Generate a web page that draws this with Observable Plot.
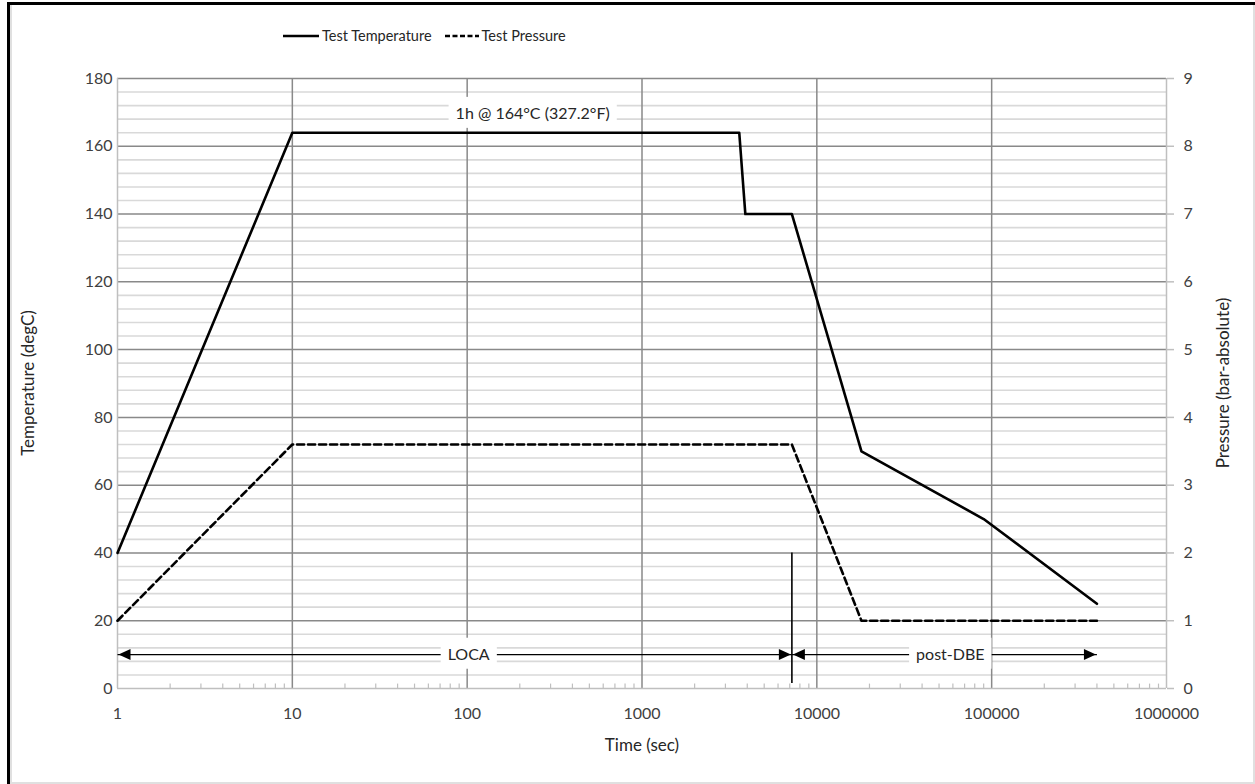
<!DOCTYPE html>
<html><head><meta charset="utf-8">
<script src="https://cdn.jsdelivr.net/npm/d3@7"></script>
<script src="https://cdn.jsdelivr.net/npm/@observablehq/plot@0.6"></script>
<style>
body{margin:0;background:#fff;font-family:Lato,"Open Sans",sans-serif;}
#wrap{position:relative;width:1255px;height:784px;overflow:hidden;background:#fff;}
#wrap svg.plot{position:absolute;left:0;top:0;}
.edge{position:absolute;}
.title{position:absolute;font-size:17px;color:#262626;white-space:nowrap;transform:translate(-50%,-50%);}
.rot{transform:translate(-50%,-50%) rotate(-90deg);}
#legend{position:absolute;left:283px;top:27px;font-size:14.5px;color:#262626;display:flex;align-items:center;white-space:nowrap;}
#legend span{display:inline-flex;align-items:center;}
</style></head><body>
<div id="wrap"></div>
<script>
// ---- data ----
const timeTemp  = [1, 10, 3600, 3900, 7200, 18000, 90000, 400000];
const tempC     = [40, 164, 164, 140, 140, 70, 50, 25];
const timePress = [1, 10, 7200, 18000, 400000];
const pressBar  = [1, 3.6, 3.6, 1, 1];
const xTicks = [1, 10, 100, 1000, 10000, 100000, 1000000];
const yTicks = [0, 20, 40, 60, 80, 100, 120, 140, 160, 180];
const pTicks = [0, 1, 2, 3, 4, 5, 6, 7, 8, 9];
const annLabels = ["1h @ 164°C (327.2°F)", "LOCA", "post-DBE"];
const annTime   = [237, 102, 58000];
const annTemp   = [169.6, 10, 10];
const phaseFrom = [1, 7200];
const phaseTo   = [7200, 400000];
const phaseLevel = 10;
const markerTime = 7200;
const markerRange = [1.5, 40];

// ---- derived tables ----
const temp = timeTemp.map((t, i) => ({t, v: tempC[i]}));
const press = timePress.map((t, i) => ({t, p: pressBar[i]}));
const ann = annLabels.map((label, i) => ({label, t: annTime[i], v: annTemp[i]}));
const phases = phaseFrom.map((a, i) => ({a, b: phaseTo[i], v: phaseLevel}));
const leftHeads = phases.map(d => ({t: d.a, v: d.v}));
const rightHeads = phases.map(d => ({t: d.b, v: d.v}));
const minorY = d3.range(0, 181, 4).filter(v => v % 20 !== 0);
const minorX = [];
xTicks.slice(0, -1).forEach(d => { for (let k = 2; k <= 9; k++) minorX.push(d * k); });

const leftTri = {draw(c) { c.moveTo(1, 0); c.lineTo(13, -5.5); c.lineTo(13, 5.5); c.closePath(); }};
const rightTri = {draw(c) { c.moveTo(-1, 0); c.lineTo(-13, -5.5); c.lineTo(-13, 5.5); c.closePath(); }};

const chart = Plot.plot({
  width: 1255, height: 784,
  marginLeft: 117, marginRight: 89, marginTop: 78, marginBottom: 96,
  style: {fontFamily: "Lato, 'Open Sans', sans-serif", fontSize: "16px", background: "transparent"},
  x: {type: "log", domain: [1, 1000000], label: null},
  y: {domain: [0, 180], label: null},
  marks: [
    Plot.ruleY(minorY, {stroke: "#d9d9d9", strokeWidth: 1.6}),
    Plot.ruleY(yTicks.filter(v => v > 0), {stroke: "#898989", strokeWidth: 1.5}),
    Plot.ruleX(xTicks.slice(1, -1), {stroke: "#898989", strokeWidth: 1.5}),
    Plot.ruleX(minorX, {y1: 0, y2: 1.3, stroke: "#bfbfbf", strokeWidth: 1.2}),
    Plot.ruleX([1, 1000000], {stroke: "#bfbfbf", strokeWidth: 1.5}),
    Plot.ruleY([0], {stroke: "#bfbfbf", strokeWidth: 1.5}),
    Plot.axisX({ticks: xTicks, tickFormat: d => String(d), tickSize: 0, tickPadding: 19, fill: "#404040", fontSize: 16, label: null}),
    Plot.axisY({ticks: yTicks, tickSize: 0, tickPadding: 5, fill: "#404040", fontSize: 16, label: null}),
    Plot.axisY({anchor: "right", ticks: pTicks.map(p => p * 20), tickFormat: d => String(d / 20), tickSize: 7, tickPadding: 10, stroke: "#bfbfbf", strokeWidth: 1.5, fill: "#404040", fontSize: 16, label: null}),
    Plot.line(press, {x: "t", y: d => d.p * 20, stroke: "#000", strokeWidth: 2.6, strokeDasharray: "7,4"}),
    Plot.line(temp, {x: "t", y: "v", stroke: "#000", strokeWidth: 2.6}),
    Plot.ruleX([markerTime], {y1: markerRange[0], y2: markerRange[1], stroke: "#000", strokeWidth: 1.6}),
    Plot.link(phases, {x1: "a", x2: "b", y1: "v", y2: "v", stroke: "#000", strokeWidth: 1.2}),
    Plot.dot(leftHeads, {x: "t", y: "v", symbol: leftTri, fill: "#000", stroke: "none"}),
    Plot.dot(rightHeads, {x: "t", y: "v", symbol: rightTri, fill: "#000", stroke: "none"}),
    Plot.text(ann, {x: "t", y: "v", text: "label", fill: "#262626", fontSize: 16})
  ]
});
chart.classList.add("plot");
const wrap = document.getElementById("wrap");
wrap.appendChild(chart);

// white boxes behind annotation labels
chart.querySelectorAll('g[aria-label="text"] text').forEach(t => {
  const b = t.getBBox();
  const r = document.createElementNS("http://www.w3.org/2000/svg", "rect");
  r.setAttribute("x", b.x - 7); r.setAttribute("y", b.y - 6);
  r.setAttribute("width", b.width + 14); r.setAttribute("height", b.height + 12);
  r.setAttribute("fill", "#fff");
  if (t.getAttribute("transform")) r.setAttribute("transform", t.getAttribute("transform"));
  t.parentNode.insertBefore(r, t);
});

// frame edges, titles, legend
function div(cls, style, text) {
  const d = document.createElement("div");
  d.className = cls; d.setAttribute("style", style);
  if (text) d.textContent = text;
  wrap.appendChild(d); return d;
}
div("edge", "left:7px;top:2px;width:3px;height:782px;background:#000;");
div("edge", "left:7px;top:2px;width:1248px;height:3px;background:#000;");
div("edge", "left:10px;top:5px;width:2px;height:779px;background:#e0e0e0;");
div("edge", "left:1253px;top:5px;width:2px;height:779px;background:#e0e0e0;");
div("edge", "left:10px;top:782px;width:1245px;height:2px;background:#e0e0e0;");
div("title rot", "left:27px;top:383px;", "Temperature (degC)");
div("title rot", "left:1222px;top:383px;", "Pressure (bar-absolute)");
div("title", "left:642px;top:744px;", "Time (sec)");

const leg = div("", "", "");
leg.id = "legend";
leg.innerHTML =
  '<span><svg width="36" height="10"><line x1="0" y1="5" x2="36" y2="5" stroke="#000" stroke-width="2.6"/></svg>' +
  '<span style="margin-left:3px">Test Temperature</span></span>' +
  '<span style="margin-left:13px"><svg width="34" height="10"><line x1="0" y1="5" x2="34" y2="5" stroke="#000" stroke-width="2.6" stroke-dasharray="5,2.5"/></svg>' +
  '<span style="margin-left:3px">Test Pressure</span></span>';
</script>
</body></html>
